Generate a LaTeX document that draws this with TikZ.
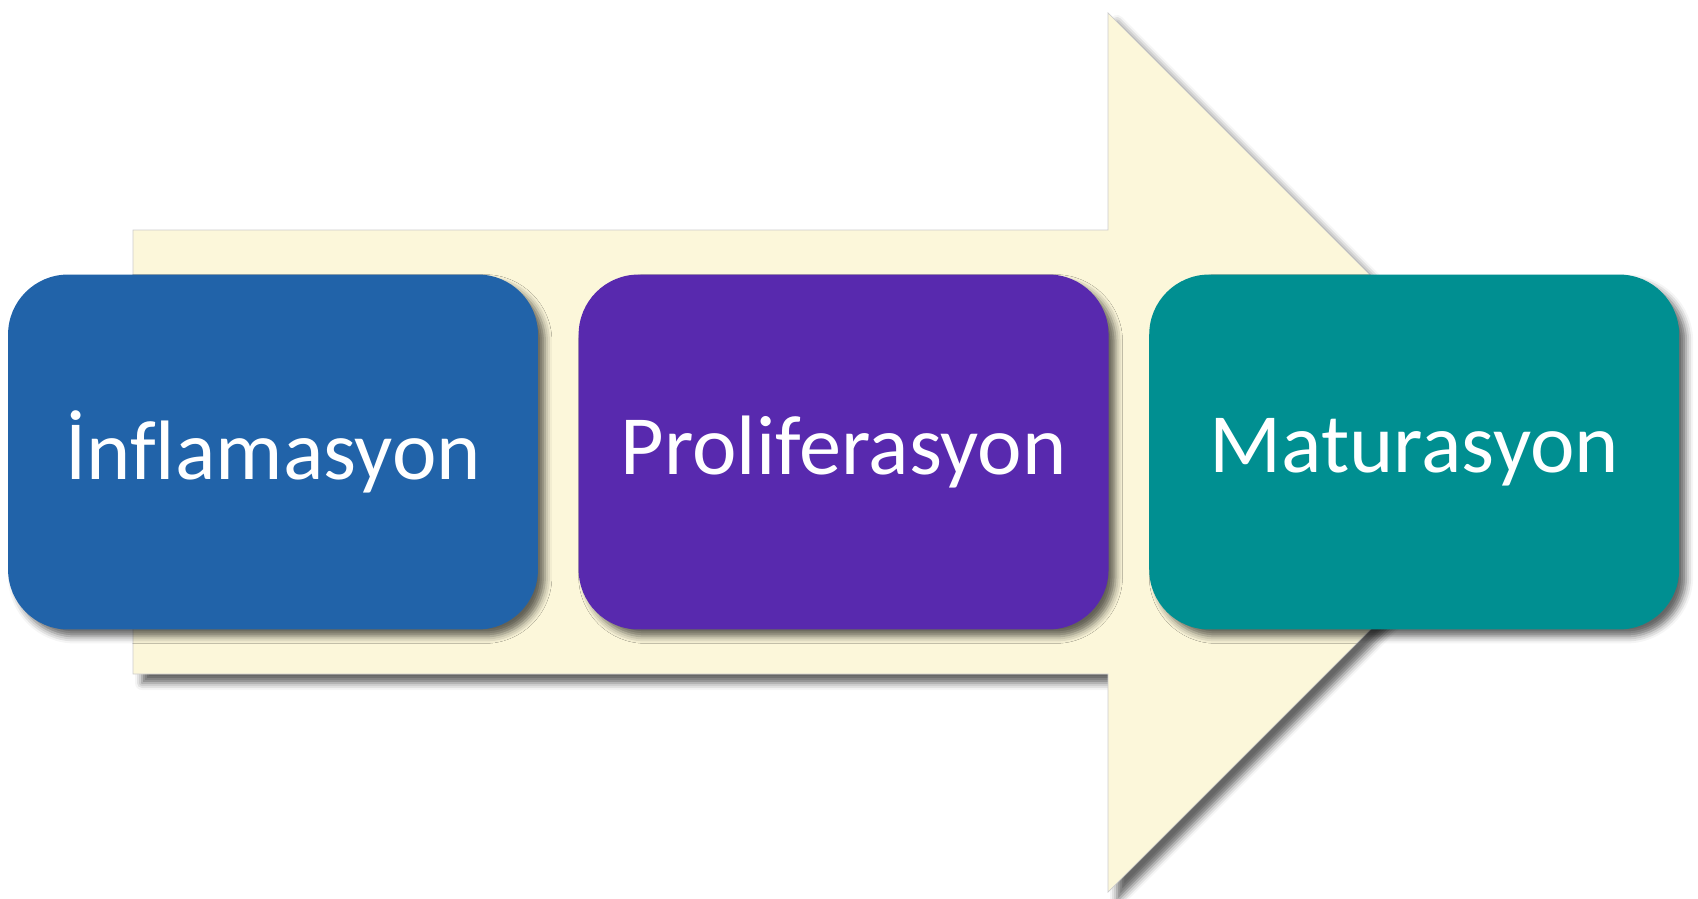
\documentclass[tikz,border=0pt]{standalone}
\usepackage{fontspec}
\setmainfont{Carlito}[Ligatures=NoCommon]
\usepackage{xcolor}
\usetikzlibrary{positioning,shadows.blur}

\definecolor{phaseblue}{RGB}{33,99,169}
\definecolor{phasepurple}{RGB}{88,41,174}
\definecolor{phaseteal}{RGB}{0,143,145}
\definecolor{arrowcream}{RGB}{252,247,218}

\begin{document}
\begin{tikzpicture}[x=0.02cm, y=-0.02cm,
  phase/.style={rounded corners=1.2cm, minimum width=10.6cm, minimum height=7.1cm,
    text=white, font=\fontsize{48}{55}\selectfont, inner sep=0pt,
    blur shadow={shadow xshift=0.14cm, shadow yshift=-0.14cm, shadow blur radius=0.14cm, shadow opacity=60}},
  node distance=0.8cm]
\useasboundingbox (0,0) rectangle (1698,899);
% big background arrow
\fill[arrowcream, draw=gray!40, line width=0.4pt,
  blur shadow={shadow xshift=0.18cm, shadow yshift=-0.18cm, shadow blur radius=0.14cm, shadow opacity=60}]
  (133,230) -- (1108,230) -- (1108,13) -- (1547.5,452.5) -- (1108,892) -- (1108,674) -- (133,674) -- cycle;
% the three phases
\node[phase, fill=phaseblue] (infl) at (273,452) {İnflamasyon};
\node[phase, fill=phasepurple, right=of infl] (prol) {Proliferasyon};
\node[phase, fill=phaseteal, right=of prol] (matu) {Maturasyon};
\end{tikzpicture}
\end{document}
